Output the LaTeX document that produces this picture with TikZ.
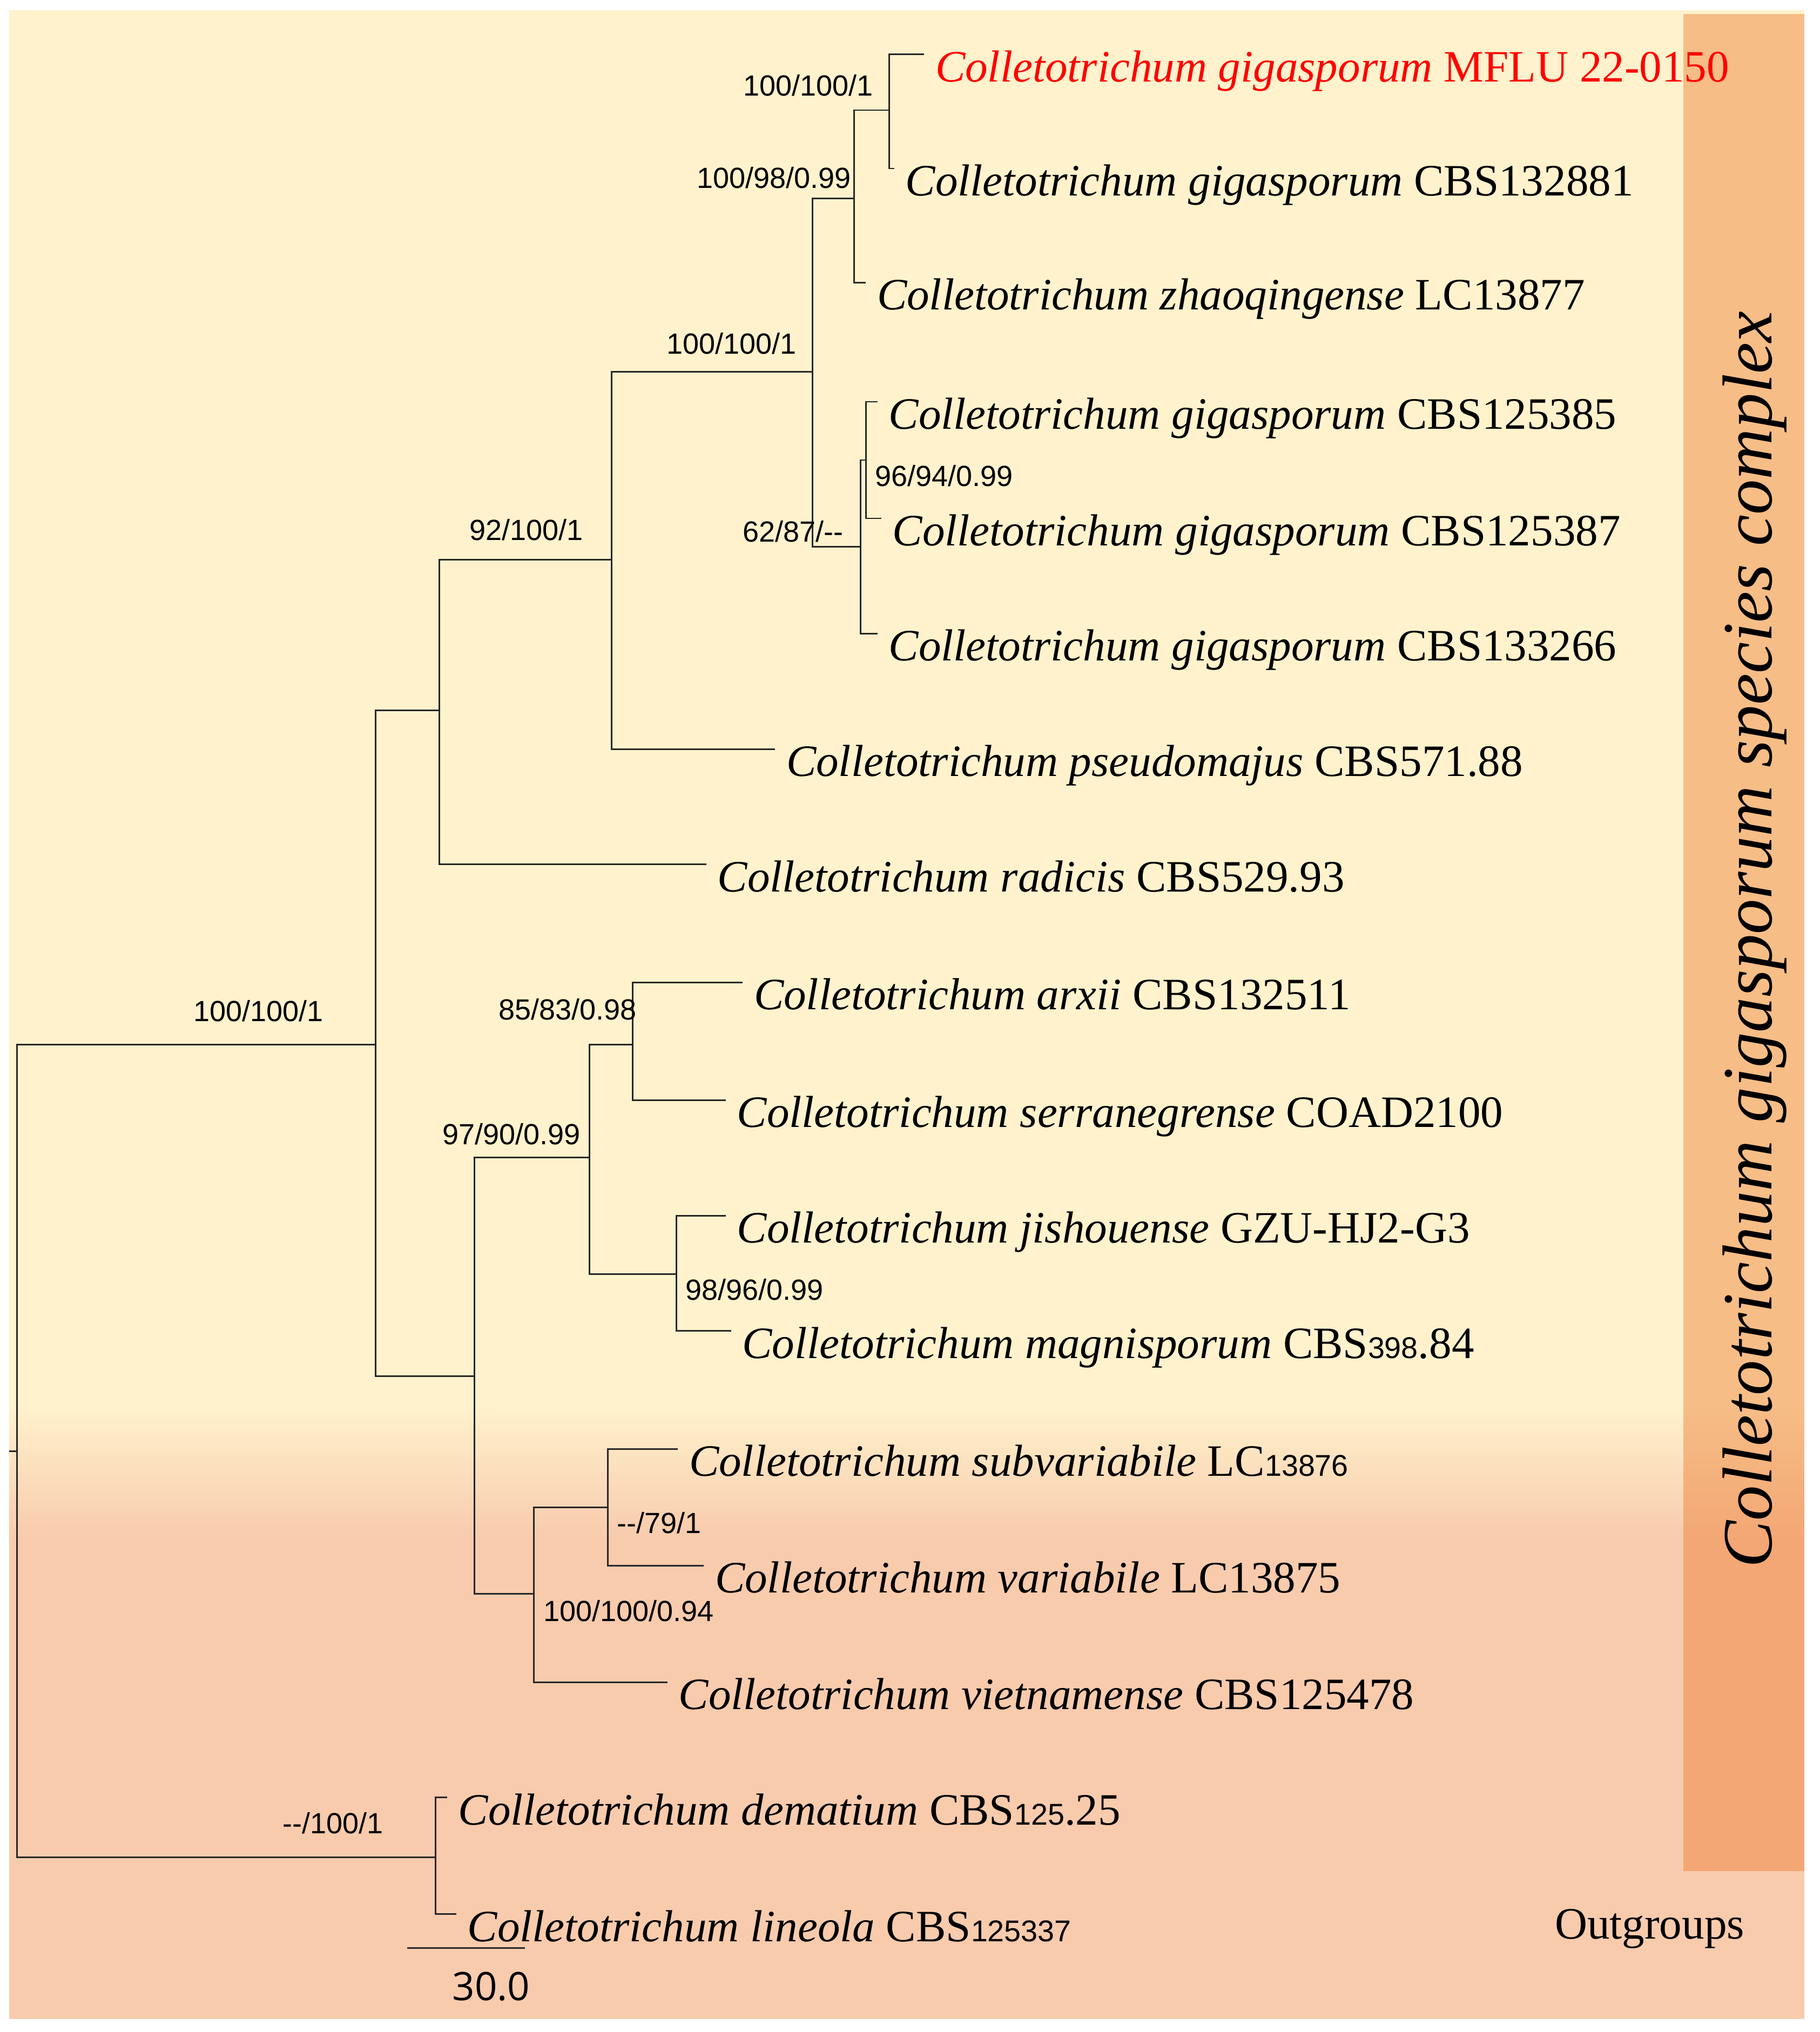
\documentclass[tikz,border=0pt]{standalone}
\usepackage{fontspec}
\setmainfont{Liberation Serif}
\setsansfont{Liberation Sans}
\newfontfamily\scalebarfont{Open Sans}
\usetikzlibrary{positioning}

\definecolor{bgtop}{HTML}{FFF2CC}
\definecolor{bgbot}{HTML}{F8CBAD}
\definecolor{cladeorange}{HTML}{ED7D31}

% small strain numbers
\newcommand{\strainno}[1]{{\sffamily\fontsize{6.6}{7}\selectfont #1}}

\begin{document}
\begin{tikzpicture}[x=0.1mm, y=-0.1mm,
    %Option for the tree
    branch/.style={line width=0.35pt, black!85},
    taxon/.style={anchor=base west, inner sep=0pt, xshift=0.8mm, yshift=-2.1mm,
        font=\fontsize{9.85}{12}\selectfont},
    support/.style={inner sep=0pt, font=\sffamily\fontsize{6.4}{7.5}\selectfont},
]
    \useasboundingbox (0,0) rectangle (1404,1568);
    \fill[white] (0,0) rectangle (1404,1568);

    % Background
    \fill[bgtop] (7,8) rectangle (1392,1086);
    \shade[top color=bgtop, bottom color=bgbot] (7,1085) rectangle (1392,1186);
    \fill[bgbot] (7,1185) rectangle (1392,1558);
    \fill[cladeorange, fill opacity=0.45] (1299,11) rectangle (1392,1444);
    \node[rotate=90, anchor=base, inner sep=0pt, font=\itshape\fontsize{15.5}{18}\selectfont]
        (cladename) at (1367,725) {Colletotrichum gigasporum species complex};
    \node[anchor=base west, inner sep=0pt, font=\fontsize{9.85}{12}\selectfont]
        (outgroups) at (1199,1496) {Outgroups};

    % Internal nodes
    \coordinate (root) at (13,1120);
    \coordinate (stub) at (7,1120);
    \coordinate (nH) at (290,806);
    \coordinate (nG) at (339,548);
    \coordinate (nF) at (472,432);
    \coordinate (nC) at (627,287);
    \coordinate (nB) at (659,153);
    \coordinate (nA) at (686,85);
    \coordinate (nD) at (664,422);
    \coordinate (nE) at (668,355);
    \coordinate (nI) at (366,1062);
    \coordinate (nJ) at (455,893);
    \coordinate (nK) at (488,806);
    \coordinate (nL) at (522,983);
    \coordinate (nM) at (412,1230);
    \coordinate (nN) at (469,1163);
    \coordinate (nO) at (336,1433);

    % Tips
    \coordinate (e1) at (713,42);
    \coordinate (e2) at (690,130);
    \coordinate (e3) at (668,218);
    \coordinate (e4) at (677,310);
    \coordinate (e5) at (680,400);
    \coordinate (e6) at (677,489);
    \coordinate (e7) at (598,578);
    \coordinate (e8) at (545,667);
    \coordinate (e9) at (573,758);
    \coordinate (e10) at (560,849);
    \coordinate (e11) at (560,938);
    \coordinate (e12) at (564,1027);
    \coordinate (e13) at (523,1118);
    \coordinate (e14) at (543,1208);
    \coordinate (e15) at (515,1298);
    \coordinate (e16) at (345,1387);
    \coordinate (e17) at (352,1477);

    % Branches
    \draw[branch] (stub) -- (root);
    \draw[branch] (root) |- (nH);
    \draw[branch] (root) |- (nO);
    \draw[branch] (nH) |- (nG);
    \draw[branch] (nH) |- (nI);
    \draw[branch] (nG) |- (nF);
    \draw[branch] (nG) |- (e8);
    \draw[branch] (nF) |- (nC);
    \draw[branch] (nF) |- (e7);
    \draw[branch] (nC) |- (nB);
    \draw[branch] (nC) |- (nD);
    \draw[branch] (nB) |- (nA);
    \draw[branch] (nB) |- (e3);
    \draw[branch] (nA) |- (e1);
    \draw[branch] (nA) |- (e2);
    \draw[branch] (nD) |- (nE);
    \draw[branch] (nD) |- (e6);
    \draw[branch] (nE) |- (e4);
    \draw[branch] (nE) |- (e5);
    \draw[branch] (nI) |- (nJ);
    \draw[branch] (nI) |- (nM);
    \draw[branch] (nJ) |- (nK);
    \draw[branch] (nJ) |- (nL);
    \draw[branch] (nK) |- (e9);
    \draw[branch] (nK) |- (e10);
    \draw[branch] (nL) |- (e11);
    \draw[branch] (nL) |- (e12);
    \draw[branch] (nM) |- (nN);
    \draw[branch] (nM) |- (e15);
    \draw[branch] (nN) |- (e13);
    \draw[branch] (nN) |- (e14);
    \draw[branch] (nO) |- (e16);
    \draw[branch] (nO) |- (e17);

    % Taxa
    \node[taxon, red] (t1) at (e1) {\textit{Colletotrichum gigasporum} MFLU 22-0150};
    \node[taxon] (t2) at (e2) {\textit{Colletotrichum gigasporum} CBS132881};
    \node[taxon] (t3) at (e3) {\textit{Colletotrichum zhaoqingense} LC13877};
    \node[taxon] (t4) at (e4) {\textit{Colletotrichum gigasporum} CBS125385};
    \node[taxon] (t5) at (e5) {\textit{Colletotrichum gigasporum} CBS125387};
    \node[taxon] (t6) at (e6) {\textit{Colletotrichum gigasporum} CBS133266};
    \node[taxon] (t7) at (e7) {\textit{Colletotrichum pseudomajus} CBS571.88};
    \node[taxon] (t8) at (e8) {\textit{Colletotrichum radicis} CBS529.93};
    \node[taxon] (t9) at (e9) {\textit{Colletotrichum arxii} CBS132511};
    \node[taxon] (t10) at (e10) {\textit{Colletotrichum serranegrense} COAD2100};
    \node[taxon] (t11) at (e11) {\textit{Colletotrichum jishouense} GZU-HJ2-G3};
    \node[taxon] (t12) at (e12) {\textit{Colletotrichum magnisporum} CBS\strainno{398}.84};
    \node[taxon] (t13) at (e13) {\textit{Colletotrichum subvariabile} LC\strainno{13876}};
    \node[taxon] (t14) at (e14) {\textit{Colletotrichum variabile} LC13875};
    \node[taxon] (t15) at (e15) {\textit{Colletotrichum vietnamense} CBS125478};
    \node[taxon] (t16) at (e16) {\textit{Colletotrichum dematium} CBS\strainno{125}.25};
    \node[taxon] (t17) at (e17) {\textit{Colletotrichum lineola} CBS\strainno{125337}};

    % Support values
    \node[support] (bA) at (623.5,66) {100/100/1};
    \node[support] (bB) at (597,137) {100/98/0.99};
    \node[support] (bC) at (564.5,265) {100/100/1};
    \node[support] (bE) at (728.5,367) {96/94/0.99};
    \node[support] (bD) at (612,410) {62/87/-{}-};
    \node[support] (bF) at (406,409) {92/100/1};
    \node[support] (bH) at (199.5,780) {100/100/1};
    \node[support] (bK) at (438,779) {85/83/0.98};
    \node[support] (bJ) at (394.5,875) {97/90/0.99};
    \node[support] (bL) at (582,995) {98/96/0.99};
    \node[support] (bN) at (508.5,1175) {-{}-/79/1};
    \node[support] (bM) at (485,1243) {100/100/0.94};
    \node[support] (bO) at (257,1407) {-{}-/100/1};

    % Scale bar
    \coordinate (sbleft) at (314,1503);
    \coordinate (sbright) at (405,1503);
    \draw[branch] (sbleft) -- (sbright);
    \node[inner sep=0pt, font=\scalebarfont\fontsize{8.6}{10}\selectfont] (sblabel) at (379,1533) {30.0};
\end{tikzpicture}
\end{document}
